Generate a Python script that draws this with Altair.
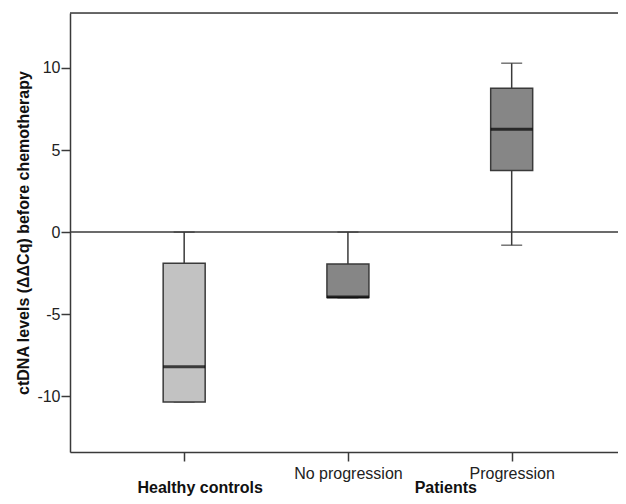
import altair as alt
import pandas as pd

# ---- data ----
groups = ["Healthy controls", "No progression", "Progression"]
group_kind = ["Healthy", "Patients", "Patients"]
whisker_low = [-10.35, -4.0, -0.8]
q1 = [-10.35, -3.98, 3.76]
median = [-8.2, -3.95, 6.26]
q3 = [-1.9, -1.95, 8.76]
whisker_high = [0.0, 0.0, 10.29]

tick_labels = ["", "No progression", "Progression"]
group_labels = ["Healthy controls", "Patients"]
group_members = [[1], [2, 3]]
y_ticks = [-10, -5, 0, 5, 10]

df = pd.DataFrame({
    "group": groups,
    "kind": group_kind,
    "pos": list(range(1, len(groups) + 1)),
    "lo": whisker_low,
    "q1": q1,
    "med": median,
    "q3": q3,
    "hi": whisker_high,
})
gdf = pd.DataFrame({
    "label": group_labels,
    "pos": [sum(m) / len(m) for m in group_members],
})

W, H = 548, 439
STEP = 166.8  # pixels per category slot
FONT = "Liberation Sans"
DARK = "#3a3a3a"

label_expr = " : ".join(
    f"datum.value == {i + 1} ? '{t}'" for i, t in enumerate(tick_labels)
) + " : ''"

x_lo = 1 / 3
xscale = alt.Scale(domain=[x_lo, x_lo + W / STEP], nice=False, zero=False)
yscale = alt.Scale(domain=[-13.4, 13.35], nice=False, zero=False)

x_enc = alt.X(
    "pos:Q", scale=xscale,
    axis=alt.Axis(values=list(range(1, len(groups) + 1)), labelExpr=label_expr,
                  title=None, grid=False, tickSize=9, labelPadding=4,
                  labelFontSize=16, labelColor="#222222", labelFont=FONT,
                  domainColor=DARK, tickColor=DARK, domainWidth=1.5, tickWidth=1.5),
)
y_axis = alt.Axis(values=y_ticks, labelExpr="'' + datum.value",
                  title="ctDNA levels (ΔΔCq) before chemotherapy",
                  grid=False, tickSize=9, labelPadding=1, labelFontSize=16,
                  labelColor="#222222", labelFont=FONT, titleFont=FONT,
                  titleFontSize=16, titleFontWeight="bold", titleColor="#111111",
                  titlePadding=5, domainColor=DARK, tickColor=DARK,
                  domainWidth=1.5, tickWidth=1.5)

base = alt.Chart(df)

whiskers = base.mark_rule(color=DARK, strokeWidth=1.5).encode(
    x=x_enc,
    y=alt.Y("lo:Q", scale=yscale, axis=y_axis),
    y2="hi:Q",
)
caps_hi = base.mark_tick(orient="horizontal", size=21, thickness=1.5, color=DARK).encode(
    x="pos:Q", y="hi:Q")
caps_lo = base.mark_tick(orient="horizontal", size=21, thickness=1.5, color=DARK).encode(
    x="pos:Q", y="lo:Q")

zero_line = alt.Chart(pd.DataFrame({"z": [0]})).mark_rule(
    color=DARK, strokeWidth=1.5).encode(y="z:Q")

boxes = base.mark_bar(size=42, stroke=DARK, strokeWidth=1.5).encode(
    x="pos:Q",
    y="q1:Q",
    y2="q3:Q",
    fill=alt.Fill("kind:N", scale=alt.Scale(domain=["Healthy", "Patients"],
                                            range=["#c2c2c2", "#868686"]),
                  legend=None),
)
medians = base.mark_tick(orient="horizontal", size=42, thickness=3, color="#000000").encode(
    x="pos:Q", y="med:Q")

top_frame = alt.Chart(pd.DataFrame({"a": [0]})).mark_rule(
    color=DARK, strokeWidth=1.5).encode(
    x=alt.value(0), x2=alt.value(W), y=alt.value(0))

group_text = alt.Chart(gdf).mark_text(
    font=FONT, fontSize=16, fontWeight="bold", color="#111111",
    baseline="alphabetic", align="center", dx=16).encode(
    x="pos:Q", y=alt.value(H + 41), text="label:N")

chart = alt.layer(
    zero_line, whiskers, caps_hi, caps_lo, boxes, medians, top_frame, group_text
).properties(
    width=W, height=H,
    autosize=alt.AutoSizeParams(type="none"),
    padding={"left": 62, "top": 5, "right": 0, "bottom": 44},
).configure_view(stroke=None).configure(background="white")

chart.save("out.html", embed_options={"renderer": "svg", "actions": False})
